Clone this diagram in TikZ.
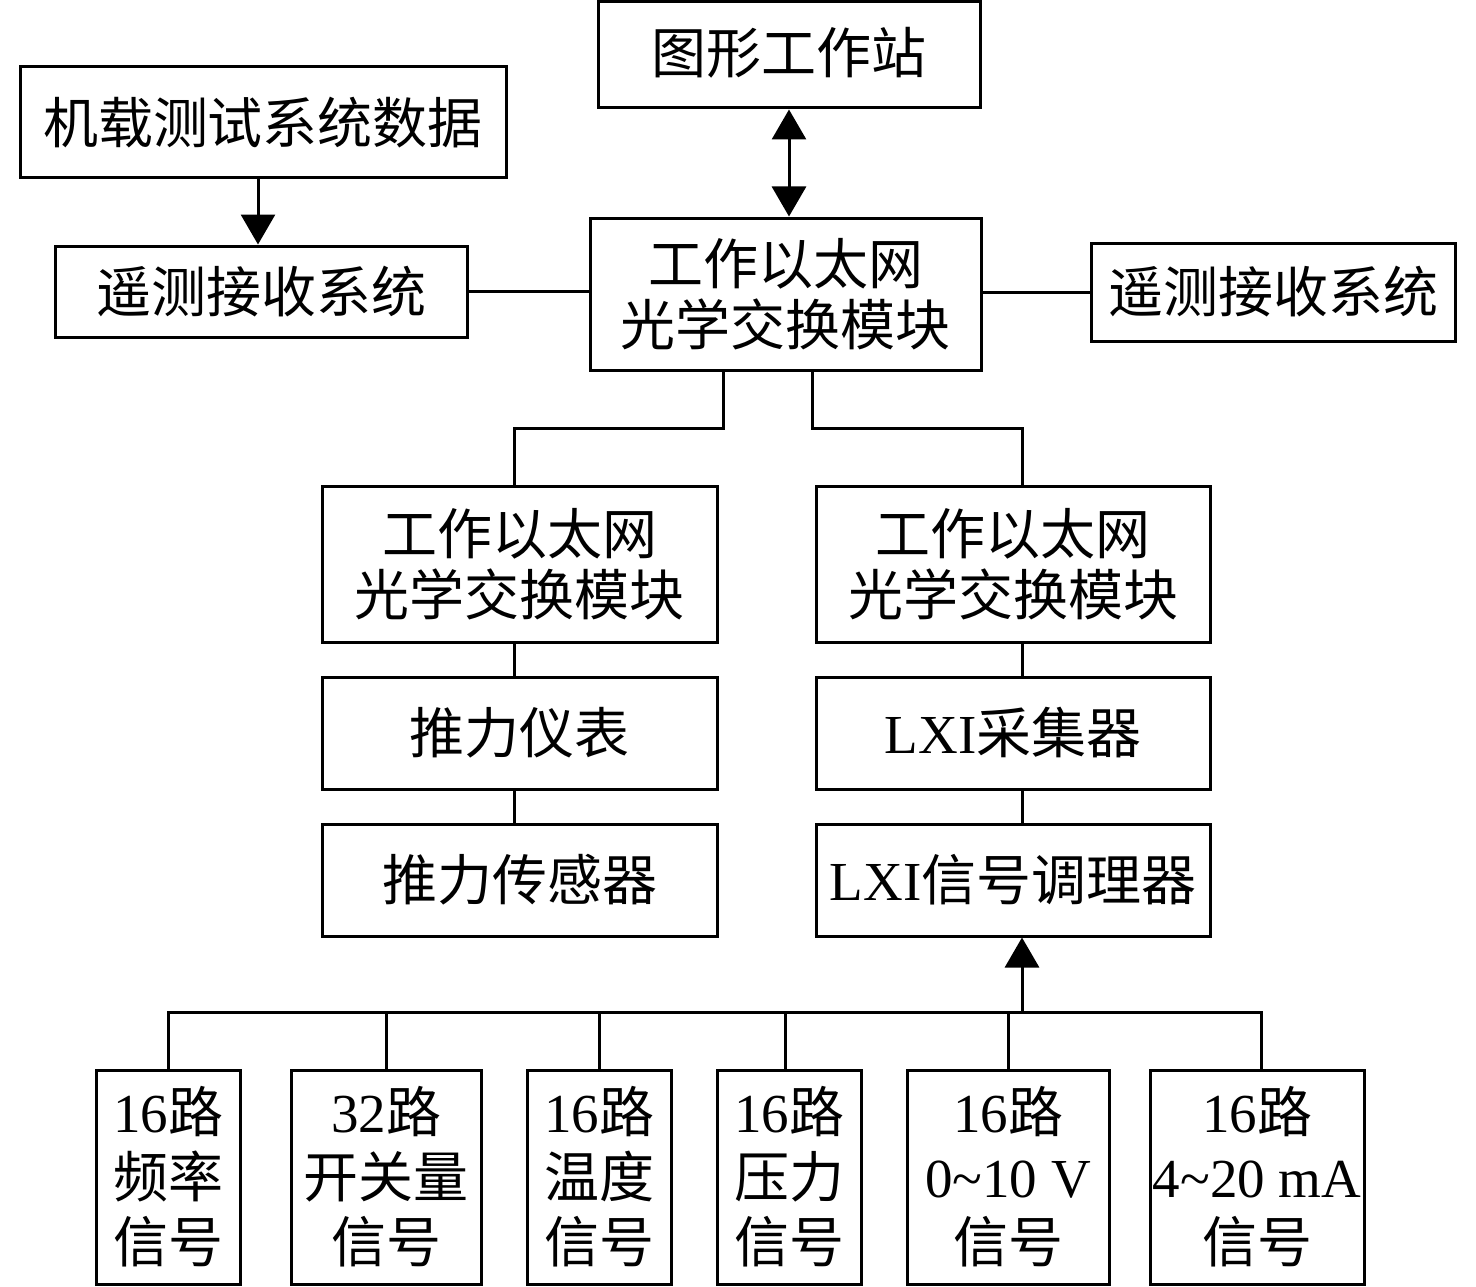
\documentclass[tikz,border=0pt]{standalone}
\usepackage{fontspec}
\setmainfont{Liberation Serif}
\newfontfamily\cjk{Noto Sans CJK SC}
\usetikzlibrary{arrows.meta}
\newcommand{\zh}[1]{{\cjk #1}}
\begin{document}
\begin{tikzpicture}[x=1pt,y=-1pt,
  box/.style={draw,line width=3pt,inner sep=0pt,align=center,font=\fontsize{55}{61}\selectfont},
  sbox/.style={box,font=\fontsize{55}{65}\selectfont},
  conn/.style={line width=3pt},
  tip/.style={-{Triangle[length=30pt,width=34pt]}}]
\useasboundingbox (0,0) rectangle (1476,1287);
\node[box,minimum width=382pt,minimum height=106pt] (gw) at (789,55) {\raisebox{9pt}{\zh{图形工作站}}};
\node[box,minimum width=486pt,minimum height=111pt] (src) at (263,122.5) {\zh{机载测试系统数据}};
\node[box,minimum width=412pt,minimum height=91pt] (telL) at (261,291.5) {\zh{遥测接收系统}};
\node[box,minimum width=391pt,minimum height=152pt] (top) at (785.5,294) {\zh{工作以太网}\\\zh{光学交换模块}};
\node[box,minimum width=364pt,minimum height=98pt] (telR) at (1273,292) {\zh{遥测接收系统}};
\node[box,minimum width=395pt,minimum height=156pt] (modL) at (519.5,564) {\zh{工作以太网}\\\zh{光学交换模块}};
\node[box,minimum width=394pt,minimum height=156pt] (modR) at (1013,564) {\zh{工作以太网}\\\zh{光学交换模块}};
\node[box,minimum width=395pt,minimum height=112pt] (thrI) at (519.5,733) {\zh{推力仪表}};
\node[box,minimum width=394pt,minimum height=112pt] (lxiA) at (1013,733) {LXI\zh{采集器}};
\node[box,minimum width=395pt,minimum height=112pt] (thrS) at (519.5,880) {\zh{推力传感器}};
\node[box,minimum width=394pt,minimum height=112pt] (lxiC) at (1013,880) {LXI\zh{信号调理器}};
\node[sbox,minimum width=144pt,minimum height=214pt] (b1) at (168,1177) {16\zh{路}\\\zh{频率}\\\zh{信号}};
\node[sbox,minimum width=190pt,minimum height=214pt] (b2) at (386,1177) {32\zh{路}\\\zh{开关量}\\\zh{信号}};
\node[sbox,minimum width=144pt,minimum height=214pt] (b3) at (599,1177) {16\zh{路}\\\zh{温度}\\\zh{信号}};
\node[sbox,minimum width=144pt,minimum height=214pt] (b4) at (789,1177) {16\zh{路}\\\zh{压力}\\\zh{信号}};
\node[sbox,minimum width=202pt,minimum height=214pt] (b5) at (1008,1177) {16\zh{路}\\0\textasciitilde10 V\\\zh{信号}};
\node[sbox,minimum width=214pt,minimum height=214pt] (b6) at (1257,1177) {16\zh{路}\\4\textasciitilde20 mA\\\zh{信号}};
% connectors
\draw[conn,tip] ([xshift=-5pt]src.south) -- ([xshift=-5pt]src.south |- telL.north);
\draw[conn,{Triangle[length=30pt,width=34pt]}-{Triangle[length=30pt,width=34pt]}] (gw.south) -- (gw.south |- top.north);
\draw[conn] (telL.east) -- (telL.east -| top.west);
\draw[conn] (top.east |- telR.west) -- (telR.west);
\draw[conn] ([xshift=-62.5pt]top.south) |- (514,428) -- ([xshift=-5.5pt]modL.north);
\draw[conn] ([xshift=26.5pt]top.south) |- (1022,428) -- ([xshift=9pt]modR.north);
\draw[conn] ([xshift=-5.5pt]modL.south) -- ([xshift=-5.5pt]thrI.north);
\draw[conn] ([xshift=-5.5pt]thrI.south) -- ([xshift=-5.5pt]thrS.north);
\draw[conn] ([xshift=9pt]modR.south) -- ([xshift=9pt]lxiA.north);
\draw[conn] ([xshift=9pt]lxiA.south) -- ([xshift=9pt]lxiC.north);
\coordinate (bus) at (0,1012);
\draw[conn] (b1.north) -- (b1.north |- bus) -| ([xshift=4pt]b6.north);
\foreach \b/\s in {b2/0,b3/0,b4/-4,b5/0}{\draw[conn] ([xshift=\s pt]\b.north) -- ([xshift=\s pt]\b.north |- bus);}
\draw[conn,tip] ([xshift=9pt]lxiC.south |- bus) -- ([xshift=9pt]lxiC.south);
\end{tikzpicture}
\end{document}
